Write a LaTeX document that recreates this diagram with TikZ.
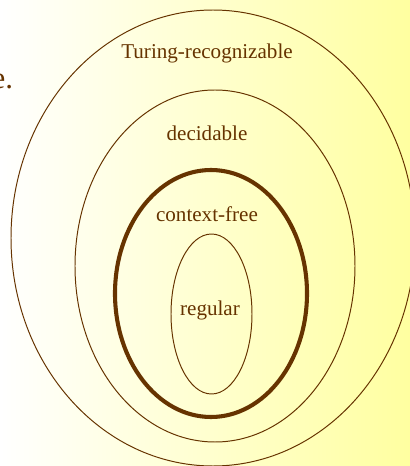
\documentclass[tikz,border=0pt]{standalone}
\usepackage{fontspec}
\setmainfont{Liberation Serif}
\usetikzlibrary{positioning}
\definecolor{c1}{HTML}{663300}
\definecolor{c2}{HTML}{FFFFA0}

\begin{document}
\begin{tikzpicture}[
    every node/.style={font=\fontsize{15}{17}\selectfont, text=c1},
    ring/.style={draw=c1, line width=0.7pt},
    bold ring/.style={draw=c1, line width=2.9pt},
]

% ---------------------------------------------------------------- background
\shade[left color=white, right color=c2] (0, 0) rectangle (10.25, 11.65);
\useasboundingbox (0, 0) rectangle (10.25, 11.65);

\node[anchor=base east, font=\fontsize{22}{24}\selectfont] (cut) at (0.45, 9.45) {e.};

% ---------------------------------------------------------------- the classes
\begin{scope}
\clip (0, 0) rectangle (10.25, 11.65);
\draw[ring] (5.325, 5.70) ellipse [x radius=5.05, y radius=5.70];
\end{scope}
\draw[ring] (5.375, 5.00) ellipse [x radius=3.50, y radius=4.40];
\draw[bold ring] (5.275, 4.3125) ellipse [x radius=2.40, y radius=3.0875];
\draw[ring] (5.2875, 3.80) ellipse [x radius=1.0125, y radius=2.00];

\node (turing) at (5.175, 10.325) {Turing-recognizable};
\node (dec) at (5.175, 8.325) {decidable};
\node (cf) at (5.175, 6.30) {context-free};
\node (reg) at (5.25, 3.90) {regular};

\end{tikzpicture}
\end{document}
